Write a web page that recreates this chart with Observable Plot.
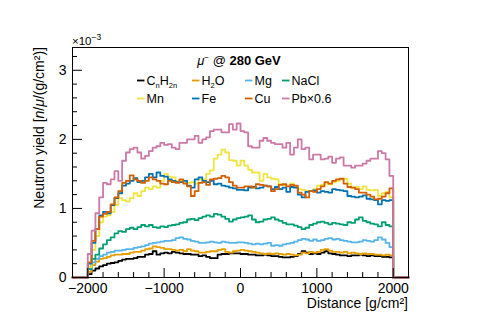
<!DOCTYPE html>
<html>
<head>
<meta charset="utf-8">
<script src="https://cdn.jsdelivr.net/npm/d3@7"></script>
<script src="https://cdn.jsdelivr.net/npm/@observablehq/plot@0.6"></script>
<style>
  html, body { margin: 0; padding: 0; background: #fff; }
  #chart { width: 480px; height: 325px; }
  svg text { font-family: "Liberation Sans", Arial, Helvetica, sans-serif; }
</style>
</head>
<body>
<div id="chart"></div>
<script>
// Bin edges: 80 bins of 50 g/cm^2 from -2000 to 2000
const binStart = -2000;
const binWidth = 50;
const xTicks = [-2000, -1000, 0, 1000, 2000];
const yTicks = [0, 1, 2, 3];

// Neutron yield in units of 1e-3 n/mu/(g/cm^2)
const CnH2n = [0.05,0.10,0.13,0.16,0.18,0.20,0.21,0.22,0.24,0.26,0.27,0.27,0.28,0.30,0.30,0.33,0.34,0.38,0.33,0.35,
  0.36,0.35,0.37,0.36,0.35,0.34,0.34,0.33,0.33,0.31,0.32,0.30,0.28,0.28,0.33,0.34,0.34,0.35,0.35,0.35,
  0.34,0.34,0.33,0.33,0.32,0.32,0.33,0.32,0.31,0.31,0.30,0.29,0.29,0.30,0.31,0.34,0.38,0.36,0.34,0.35,
  0.34,0.36,0.38,0.35,0.34,0.33,0.32,0.32,0.31,0.32,0.32,0.33,0.32,0.31,0.32,0.31,0.31,0.30,0.30,0.29];
const H2O = [0.08,0.18,0.23,0.27,0.28,0.30,0.32,0.33,0.33,0.34,0.34,0.36,0.37,0.37,0.39,0.41,0.42,0.45,0.44,0.43,
  0.41,0.41,0.40,0.39,0.40,0.38,0.41,0.39,0.38,0.36,0.36,0.37,0.38,0.38,0.40,0.41,0.37,0.36,0.38,0.39,
  0.40,0.39,0.38,0.37,0.36,0.35,0.34,0.35,0.34,0.35,0.34,0.33,0.34,0.33,0.32,0.33,0.36,0.35,0.37,0.36,
  0.37,0.40,0.41,0.39,0.37,0.37,0.36,0.37,0.35,0.36,0.35,0.34,0.35,0.34,0.34,0.33,0.33,0.32,0.33,0.32];
const Mg = [0.12,0.22,0.27,0.31,0.33,0.36,0.37,0.39,0.39,0.40,0.41,0.41,0.43,0.44,0.45,0.47,0.49,0.50,0.51,0.52,
  0.53,0.53,0.54,0.57,0.58,0.56,0.55,0.53,0.52,0.50,0.50,0.51,0.52,0.51,0.50,0.52,0.51,0.50,0.50,0.51,
  0.51,0.50,0.49,0.48,0.49,0.48,0.49,0.50,0.46,0.47,0.46,0.48,0.49,0.50,0.52,0.54,0.56,0.55,0.53,0.55,
  0.53,0.54,0.56,0.57,0.55,0.56,0.54,0.53,0.52,0.51,0.51,0.52,0.54,0.53,0.52,0.54,0.58,0.55,0.50,0.44];
const NaCl = [0.12,0.27,0.33,0.42,0.48,0.54,0.58,0.64,0.67,0.66,0.70,0.72,0.70,0.73,0.76,0.74,0.76,0.73,0.72,0.74,
  0.73,0.75,0.76,0.77,0.79,0.80,0.84,0.85,0.83,0.86,0.88,0.90,0.88,0.92,0.91,0.88,0.85,0.81,0.84,0.86,
  0.87,0.88,0.90,0.84,0.80,0.81,0.84,0.85,0.87,0.84,0.82,0.79,0.77,0.77,0.75,0.73,0.70,0.72,0.76,0.78,
  0.80,0.81,0.79,0.77,0.79,0.78,0.77,0.76,0.80,0.79,0.84,0.87,0.82,0.80,0.78,0.77,0.74,0.80,0.76,0.74];
const Mn = [0.15,0.40,0.60,0.80,0.88,0.90,0.95,1.05,1.15,1.12,1.10,1.15,1.22,1.18,1.25,1.30,1.28,1.32,1.30,1.40,
  1.50,1.46,1.45,1.40,1.40,1.38,1.37,1.38,1.36,1.42,1.42,1.50,1.55,1.72,1.78,1.85,1.81,1.70,1.69,1.62,
  1.69,1.62,1.56,1.52,1.52,1.40,1.50,1.45,1.43,1.42,1.35,1.34,1.33,1.36,1.31,1.28,1.27,1.25,1.25,1.28,
  1.33,1.34,1.36,1.35,1.38,1.40,1.42,1.43,1.36,1.30,1.31,1.28,1.32,1.27,1.26,1.27,1.18,1.22,1.24,1.16];
const Fe = [0.20,0.50,0.70,0.90,0.95,0.93,1.05,1.15,1.22,1.33,1.36,1.40,1.44,1.38,1.40,1.45,1.50,1.45,1.52,1.47,
  1.46,1.42,1.40,1.38,1.38,1.40,1.33,1.30,1.42,1.45,1.40,1.38,1.40,1.35,1.36,1.33,1.32,1.30,1.29,1.27,
  1.27,1.26,1.30,1.31,1.29,1.30,1.33,1.32,1.28,1.31,1.28,1.30,1.24,1.31,1.30,1.20,1.16,1.24,1.25,1.26,
  1.23,1.25,1.24,1.23,1.28,1.27,1.26,1.25,1.18,1.17,1.16,1.17,1.19,1.14,1.13,1.12,1.06,1.12,1.11,1.12];
const Cu = [0.22,0.53,0.70,0.88,0.92,0.95,1.06,1.16,1.25,1.37,1.40,1.48,1.42,1.40,1.37,1.40,1.45,1.42,1.40,1.36,
  1.35,1.40,1.38,1.37,1.42,1.36,1.32,1.18,1.25,1.37,1.38,1.34,1.42,1.43,1.44,1.47,1.45,1.38,1.33,1.30,
  1.30,1.32,1.32,1.30,1.35,1.34,1.33,1.32,1.25,1.28,1.34,1.35,1.32,1.34,1.33,1.23,1.20,1.16,1.25,1.24,
  1.28,1.32,1.38,1.36,1.40,1.42,1.43,1.36,1.31,1.30,1.28,1.23,1.23,1.20,1.17,1.13,1.14,1.17,1.22,1.29];
const Pb06 = [0.34,0.68,0.93,1.16,1.37,1.35,1.42,1.54,1.40,1.69,1.81,1.86,1.88,1.81,1.72,1.76,1.83,1.88,1.90,1.95,
  1.92,1.93,1.88,1.86,1.95,1.95,2.00,2.00,2.05,1.95,2.00,2.03,2.12,2.14,2.14,2.10,2.10,2.22,2.14,2.23,
  2.12,2.10,1.90,1.88,1.88,1.98,2.02,1.98,1.95,1.93,1.93,1.88,1.95,1.78,1.88,2.00,1.86,1.88,1.71,1.78,
  1.78,1.71,1.72,1.75,1.66,1.72,1.74,1.62,1.62,1.59,1.62,1.62,1.65,1.69,1.72,1.72,1.83,1.80,1.71,1.47];

const seriesNames = ["CnH2n", "H2O", "Mg", "NaCl", "Mn", "Fe", "Cu", "Pb×0.6"];
const seriesValues = [CnH2n, H2O, Mg, NaCl, Mn, Fe, Cu, Pb06];
const seriesColors = ["#000000", "#E69F00", "#56B4E9", "#009E73", "#F0E442", "#0072B2", "#D55E00", "#CC79A7"];

const xDomain = [-2200, 2200];
const yDomain = [0, 3.33];

function stepPoints(vals) {
  const pts = [{x: xDomain[0], y: 0}];
  vals.forEach((v, i) => pts.push({x: binStart + i * binWidth, y: v}));
  const end = binStart + vals.length * binWidth;
  pts.push({x: end, y: 0});
  pts.push({x: xDomain[1], y: 0});
  return pts;
}

const W = 480, H = 325;
const mL = 72, mR = 72, mT = 47, mB = 48;
const plotW = W - mL - mR, plotH = H - mT - mB;

const xMinor = d3.range(-2200, 2201, 200).filter(d => !xTicks.includes(d));
const yMinor = d3.range(0, 3.3, 0.2).map(d => +d.toFixed(1)).filter(d => !yTicks.includes(d));

const fmt = d => (d < 0 ? "\u2212" + Math.abs(d) : String(d));

const lineMarks = seriesValues.map((vals, i) =>
  Plot.line(stepPoints(vals), {x: "x", y: "y", curve: "step-after", stroke: seriesColors[i], strokeWidth: 1.8})
);

const chart = Plot.plot({
  width: W, height: H,
  marginLeft: mL, marginRight: mR, marginTop: mT, marginBottom: mB,
  style: {fontFamily: "Liberation Sans, Arial, Helvetica, sans-serif", background: "white", overflow: "visible"},
  x: {domain: xDomain},
  y: {domain: yDomain},
  marks: [
    ...lineMarks,
    Plot.frame({stroke: "black", strokeWidth: 1}),
    Plot.tickX(xTicks, {x: d => d, insetTop: plotH - 9, stroke: "black"}),
    Plot.tickX(xMinor, {x: d => d, insetTop: plotH - 5, stroke: "black"}),
    Plot.tickY(yTicks, {y: d => d, insetRight: plotW - 10, stroke: "black"}),
    Plot.tickY(yMinor, {y: d => d, insetRight: plotW - 5, stroke: "black"}),
    Plot.axisX({ticks: xTicks, tickSize: 0, tickPadding: 6, tickFormat: fmt, fontSize: 14, label: null}),
    Plot.axisY({ticks: yTicks, tickSize: 0, tickPadding: 6, tickFormat: fmt, fontSize: 14, label: null})
  ]
});

document.getElementById("chart").appendChild(chart);

const svg = d3.select(chart);
const ff = "Liberation Sans, Arial, Helvetica, sans-serif";

// x-axis title
svg.append("text").attr("x", mL + plotW).attr("y", H - 17).attr("text-anchor", "end")
  .attr("font-size", 14).attr("font-family", ff).attr("fill", "black")
  .text("Distance [g/cm²]");

// y-axis title
const yt = svg.append("text").attr("transform", `translate(44,${mT}) rotate(-90)`)
  .attr("text-anchor", "end").attr("font-size", 14).attr("font-family", ff).attr("fill", "black");
yt.append("tspan").text("Neutron yield [");
yt.append("tspan").attr("font-style", "italic").text("n");
yt.append("tspan").text("/");
yt.append("tspan").attr("font-style", "italic").text("μ");
yt.append("tspan").text("/(g/cm²)]");

// exponent
const ex = svg.append("text").attr("x", mL).attr("y", mT - 2).attr("font-size", 11.5)
  .attr("text-anchor", "start").attr("font-family", ff).attr("fill", "black");
ex.append("tspan").text("×10");
ex.append("tspan").attr("dy", -5).attr("font-size", 8.5).text("−3");

// title
const tt = svg.append("text").attr("x", 239).attr("y", 65).attr("text-anchor", "middle")
  .attr("font-size", 13).attr("font-family", ff).attr("fill", "black");
tt.append("tspan").attr("font-style", "italic").text("μ");
tt.append("tspan").attr("dy", -5).attr("font-size", 8).text("−");
tt.append("tspan").attr("dy", 5).text(" @ ");
tt.append("tspan").attr("font-weight", "bold").text("280 GeV");

// legend
const legendCols = [137, 192, 245, 282];
const legendRows = [85, 103];
const legendLabels = [
  [["C", 0], ["n", 1], ["H", 0], ["2n", 1]],
  [["H", 0], ["2", 1], ["O", 0]],
  [["Mg", 0]],
  [["NaCl", 0]],
  [["Mn", 0]],
  [["Fe", 0]],
  [["Cu", 0]],
  [["Pb×0.6", 0]]
];
legendLabels.forEach((parts, i) => {
  const lx = legendCols[i % 4], ly = legendRows[Math.floor(i / 4)];
  svg.append("line").attr("x1", lx).attr("x2", lx + 7.5).attr("y1", ly - 4.5).attr("y2", ly - 4.5)
    .attr("stroke", seriesColors[i]).attr("stroke-width", 1.8);
  const t = svg.append("text").attr("x", lx + 9.5).attr("y", ly).attr("font-size", 12.5)
    .attr("text-anchor", "start").attr("font-family", ff).attr("fill", "black");
  let sub = 0;
  parts.forEach(([s, isSub]) => {
    const dy = (isSub ? 3 : 0) - sub;
    const sp = t.append("tspan").attr("dy", dy).text(s);
    if (isSub) sp.attr("font-size", 7.5);
    sub = isSub ? 3 : 0;
  });
});
</script>
</body>
</html>
